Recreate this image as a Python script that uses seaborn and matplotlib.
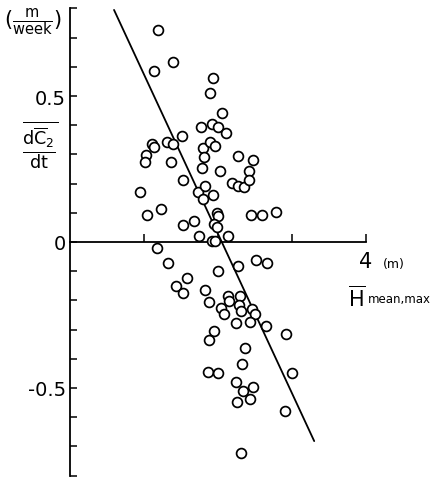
import numpy as np
import pandas as pd
import matplotlib
matplotlib.use("Agg")
import matplotlib.pyplot as plt
import seaborn as sns

# ---- data ----
h_upper = [1.189, 1.392, 1.135, 1.932, 1.892, 2.054, 1.770, 1.919, 2.000, 2.108,
           1.514, 1.797, 1.892, 1.959, 1.811, 2.270, 2.473, 1.784, 2.027, 2.419,
           2.189, 2.270, 2.351, 2.419, 1.527, 1.730, 1.824, 1.932, 1.797, 1.986,
           2.000, 2.446, 2.595, 2.784, 1.676, 1.527, 1.946, 1.986, 1.743, 2.135,
           1.919, 1.959, 1.108, 1.135, 1.311, 1.392, 1.027, 1.014, 1.365, 0.946,
           1.230, 1.041]
dc_upper = [0.726, 0.616, 0.586, 0.562, 0.510, 0.442, 0.394, 0.404, 0.394, 0.373,
            0.363, 0.322, 0.342, 0.329, 0.291, 0.295, 0.281, 0.253, 0.243, 0.243,
            0.202, 0.192, 0.188, 0.212, 0.212, 0.171, 0.192, 0.161, 0.147, 0.099,
            0.089, 0.092, 0.092, 0.103, 0.072, 0.058, 0.062, 0.051, 0.021, 0.021,
            0.002, 0.002, 0.336, 0.325, 0.342, 0.336, 0.298, 0.274, 0.274, 0.171,
            0.113, 0.092]
h_lower = [1.176, 1.324, 1.581, 1.432, 1.527, 1.824, 1.878, 2.000, 1.946, 1.878,
           1.865, 2.000, 2.514, 2.662, 2.270, 2.135, 2.149, 2.297, 2.041, 2.081,
           2.284, 2.311, 2.459, 2.500, 2.243, 2.432, 2.649, 2.919, 2.365, 2.324,
           3.000, 2.243, 2.338, 2.473, 2.257, 2.432, 2.905, 2.311]
dc_lower = [-0.021, -0.072, -0.123, -0.151, -0.175, -0.164, -0.205, -0.099, -0.305, -0.336,
            -0.445, -0.449, -0.062, -0.072, -0.082, -0.185, -0.202, -0.185, -0.226, -0.247,
            -0.216, -0.236, -0.229, -0.247, -0.277, -0.274, -0.288, -0.315, -0.363, -0.418,
            -0.449, -0.479, -0.510, -0.497, -0.548, -0.538, -0.579, -0.723]

fit_x = [0.595, 3.30]
fit_y = [0.795, -0.682]

ytick_vals = [-0.5, 0.0, 0.5]
ytick_text = ["-0.5", "0", "0.5"]

df = pd.DataFrame({"H": h_upper + h_lower, "dC": dc_upper + dc_lower})
fit = pd.DataFrame({"H": fit_x, "dC": fit_y})

sns.set_style("white")
plt.rcParams["font.family"] = ["DejaVu Sans"]
plt.rcParams["mathtext.fontset"] = "dejavusans"
plt.rcParams["text.color"] = "black"

fig = plt.figure(figsize=(4.35, 4.81), dpi=100)
ax = fig.add_axes([70 / 435, 3 / 481, 296 / 435, 470 / 481])

sns.lineplot(data=fit, x="H", y="dC", ax=ax, color="black", linewidth=1.3)
sns.scatterplot(data=df, x="H", y="dC", ax=ax, marker="o", s=50,
                facecolor="white", edgecolor="black", linewidth=1.25, zorder=3)

ax.set_xlim(0, 4)
ax.set_ylim(-0.805, 0.805)
ax.set_xlabel("")
ax.set_ylabel("")

for s in ["top", "right"]:
    ax.spines[s].set_visible(False)
ax.spines["left"].set_bounds(-0.8, 0.8)
ax.spines["left"].set_linewidth(1.3)
ax.spines["left"].set_color("black")
ax.spines["bottom"].set_position(("data", 0))
ax.spines["bottom"].set_linewidth(1.3)
ax.spines["bottom"].set_color("black")

ax.set_xticks([1, 2, 3, 4])
ax.set_xticklabels([])
ax.tick_params(axis="x", bottom=True, direction="in", length=6, width=1.1, color="black")

minor = [round(v, 1) for v in np.arange(-0.8, 0.81, 0.1)]
ax.set_yticks(minor, minor=True)
ax.set_yticks(ytick_vals)
ax.set_yticklabels(ytick_text, fontsize=14, color="black")
ax.tick_params(axis="y", which="both", left=True, direction="in", length=5,
               width=1.1, color="black", pad=3)

ax.text(4, -0.065, "4", ha="center", va="center", fontsize=15)
ax.text(4.38, -0.072, "(m)", ha="center", va="center", fontsize=9)
ax.text(3.88, -0.19, r"$\overline{\mathrm{H}}$", ha="center", va="center", fontsize=15)
ax.text(4.45, -0.195, "mean,max", ha="center", va="center", fontsize=8.5)

fig.text(33 / 435, 1 - 22 / 481, r"$(\frac{\mathrm{m}}{\mathrm{week}})$",
         ha="center", va="center", fontsize=15)
fig.text(40 / 435, 1 - 145 / 481, r"$\overline{\frac{\mathrm{d}\overline{\mathrm{C}}_2}{\mathrm{dt}}}$",
         ha="center", va="center", fontsize=18)

fig.savefig("out.png", dpi=100)
